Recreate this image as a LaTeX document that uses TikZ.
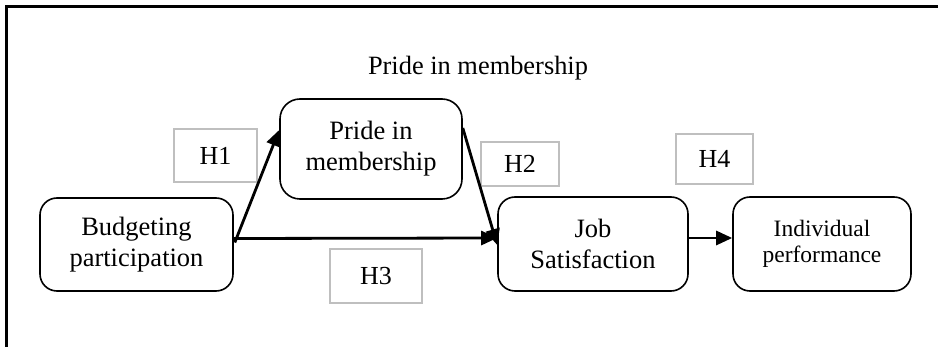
\documentclass[tikz,border=0pt]{standalone}
\usepackage{fontspec}
\setmainfont{Liberation Serif}
\usetikzlibrary{arrows.meta}
\tikzset{
  cbox/.style={draw=black, line width=1.6pt, rounded corners=17pt, align=center, inner sep=0pt, font=\fontsize{26.5}{31}\selectfont},
  hbox/.style={draw=black!25, line width=1.5pt, inner sep=0pt, font=\fontsize{26}{30}\selectfont},
  conn/.style={line width=2.8pt, -{Triangle[length=16pt,width=14pt]}},
  frame/.style={line width=3pt}
}
\begin{document}
\begin{tikzpicture}[x=1pt,y=-1pt]
\useasboundingbox (0,0) rectangle (938,347);
\coordinate (fa) at (6,347);
\coordinate (fb) at (6,7);
\coordinate (fc) at (938,7);
\draw[frame] (fa) -- (fb) -- (fc);
\node[font=\fontsize{26.4}{30}\selectfont, anchor=base] (title) at (478,75) {Pride in membership};
\node[cbox, minimum width=193pt, minimum height=93pt] (bp) at (136.5,244.5) {Budgeting\\participation};
\node[cbox, minimum width=182pt, minimum height=100pt, rounded corners=20pt] (pim) at (371,149) {Pride in\\membership};
\node[cbox, minimum width=190pt, minimum height=94pt] (js) at (593,244) {Job\\Satisfaction};
\node[cbox, minimum width=178pt, minimum height=94pt, font=\fontsize{23.5}{26}\selectfont] (ip) at (822,244) {Individual\\performance};
\node[hbox, minimum width=83pt, minimum height=53pt] (h1) at (215.5,155.5) {H1\hspace{5pt}};
\node[hbox, minimum width=78pt, minimum height=44pt] (h2) at (520,164) {H2};
\node[hbox, minimum width=92pt, minimum height=54pt] (h3) at (376,276) {H3\hspace{12pt}};
\node[hbox, minimum width=77pt, minimum height=50pt] (h4) at (714.5,159) {H4};
\draw[conn] ([xshift=1pt,yshift=2pt]bp.east) -- ([yshift=19pt]pim.west);
\draw[conn] ([yshift=6pt]bp.east) -- ([yshift=6pt]js.west);
\draw[conn] ([yshift=21pt]pim.east) -- ([yshift=-1pt]js.west);
\draw[conn] ([yshift=6pt]js.east) -- ([yshift=6pt]ip.west);
\end{tikzpicture}
\end{document}
